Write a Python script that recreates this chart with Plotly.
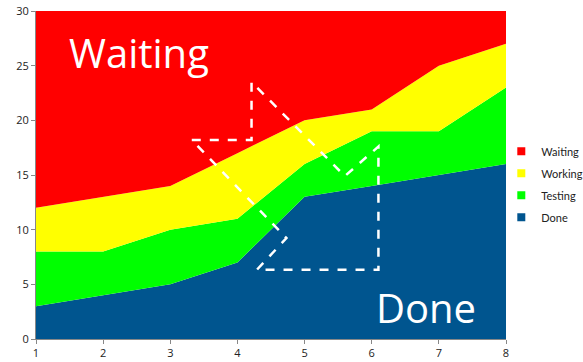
import plotly.graph_objects as go

days = [1, 2, 3, 4, 5, 6, 7, 8]
done = [3, 4, 5, 7, 13, 14, 15, 16]
testing = [5, 4, 5, 4, 3, 5, 4, 7]
working = [4, 5, 4, 6, 4, 2, 6, 4]
waiting = [18, 17, 16, 13, 10, 9, 5, 3]
y_ticks = [0, 5, 10, 15, 20, 25, 30]

series = [
    ("Done", done, "#00558F"),
    ("Testing", testing, "#00FF00"),
    ("Working", working, "#FFFF00"),
    ("Waiting", waiting, "#FF0000"),
]

fig = go.Figure()
for name, vals, col in series:
    fig.add_trace(go.Scatter(
        x=days, y=vals, name=name, mode="lines", stackgroup="one",
        line=dict(width=0, color=col), fillcolor=col, showlegend=False,
    ))
# legend entries with square swatches (top to bottom: Waiting ... Done)
for name, vals, col in reversed(series):
    fig.add_trace(go.Scatter(
        x=[None], y=[None], name=name, mode="markers", legendgroup=name,
        marker=dict(symbol="square", size=8, color=col),
    ))

# decorative dashed arrow outline (data coordinates)
arrow_x = [3.32, 4.21, 4.21, 5.60, 6.10, 6.10, 4.29, 4.73, 3.32]
arrow_y = [18.2, 18.2, 23.5, 14.9, 17.6, 6.33, 6.33, 9.23, 18.2]
path = "M " + " L ".join(f"{x},{y}" for x, y in zip(arrow_x, arrow_y))
fig.add_shape(type="path", path=path, xref="x", yref="y",
              line=dict(color="white", width=2.5, dash="dash"))

fig.add_annotation(x=2.53, y=26.2, text="Waiting", showarrow=False,
                   font=dict(size=40, color="white", family="Open Sans"))
fig.add_annotation(x=6.81, y=2.9, text="Done", showarrow=False,
                   font=dict(size=40, color="white", family="Open Sans"))

fig.update_layout(
    width=583, height=362,
    margin=dict(l=36, r=77, t=11, b=23, autoexpand=False),
    paper_bgcolor="white", plot_bgcolor="white",
    font=dict(family="Open Sans", size=11, color="#222"),
    showlegend=True,
    legend=dict(traceorder="grouped", x=0.99, y=0.4715, yanchor="middle",
                xanchor="left", font=dict(size=11, family="Lato"), itemwidth=30,
                tracegroupgap=3, bgcolor="rgba(0,0,0,0)"),
)
fig.update_xaxes(range=[1, 8], tickvals=days, showgrid=False, zeroline=False,
                 showline=True, linecolor="#888", ticks="outside",
                 ticklen=4, tickcolor="#888")
fig.update_yaxes(range=[0, 30], tickvals=y_ticks, showgrid=False, zeroline=False,
                 showline=True, linecolor="#888", ticks="outside",
                 ticklen=4, tickcolor="#888")

fig.write_html("out.html", config={"displayModeBar": False},
               post_script="document.body.style.margin='0';document.body.style.overflow='hidden';")
